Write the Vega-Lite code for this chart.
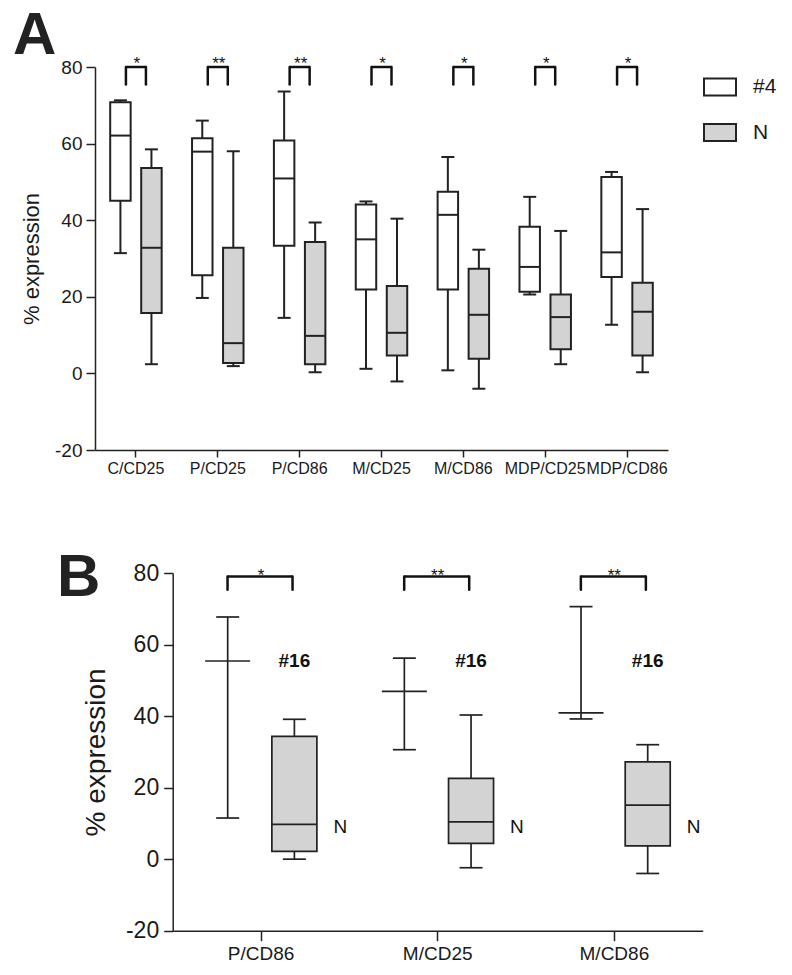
{
  "$schema": "https://vega.github.io/schema/vega-lite/v6.json",
  "padding": {"left": 13, "top": 5, "right": 5, "bottom": 5},
  "background": "white",
  "spacing": 71,
  "resolve": {"scale": {"fill": "independent", "xOffset": "independent", "x": "independent", "y": "independent"}, "legend": {"fill": "independent"}},
  "config": {
    "view": {"stroke": null},
    "font": "Liberation Sans",
    "tick": {"opacity": 1},
    "axis": {"grid": false, "domainColor": "#222", "tickColor": "#222", "labelColor": "#1a1a1a", "titleColor": "#1a1a1a", "domainWidth": 1.5, "tickWidth": 1.5, "labelFont": "Liberation Sans", "titleFont": "Liberation Sans", "titleFontWeight": "normal"}
  },
  "datasets": {
    "boxA": [
      {"cat": "C/CD25", "group": "#4", "min": 31.4, "q1": 45.1, "median": 62.1, "q3": 70.8, "max": 71.3},
      {"cat": "C/CD25", "group": "N", "min": 2.4, "q1": 15.8, "median": 32.8, "q3": 53.6, "max": 58.5},
      {"cat": "P/CD25", "group": "#4", "min": 19.7, "q1": 25.6, "median": 57.9, "q3": 61.4, "max": 66.0},
      {"cat": "P/CD25", "group": "N", "min": 1.9, "q1": 2.7, "median": 7.9, "q3": 32.8, "max": 58.0},
      {"cat": "P/CD86", "group": "#4", "min": 14.5, "q1": 33.3, "median": 50.9, "q3": 60.8, "max": 73.6},
      {"cat": "P/CD86", "group": "N", "min": 0.3, "q1": 2.4, "median": 9.8, "q3": 34.3, "max": 39.4},
      {"cat": "M/CD25", "group": "#4", "min": 1.2, "q1": 21.9, "median": 35.0, "q3": 44.1, "max": 44.9},
      {"cat": "M/CD25", "group": "N", "min": -2.1, "q1": 4.7, "median": 10.6, "q3": 22.8, "max": 40.4},
      {"cat": "M/CD86", "group": "#4", "min": 0.8, "q1": 21.9, "median": 41.4, "q3": 47.4, "max": 56.5},
      {"cat": "M/CD86", "group": "N", "min": -4.0, "q1": 3.8, "median": 15.3, "q3": 27.3, "max": 32.3},
      {"cat": "MDP/CD25", "group": "#4", "min": 20.6, "q1": 21.3, "median": 27.8, "q3": 38.3, "max": 46.1},
      {"cat": "MDP/CD25", "group": "N", "min": 2.4, "q1": 6.3, "median": 14.7, "q3": 20.6, "max": 37.2},
      {"cat": "MDP/CD86", "group": "#4", "min": 12.7, "q1": 25.2, "median": 31.6, "q3": 51.3, "max": 52.6},
      {"cat": "MDP/CD86", "group": "N", "min": 0.3, "q1": 4.7, "median": 16.1, "q3": 23.7, "max": 42.9}
    ],
    "sigA": [
      {"cat": "C/CD25", "sig": "*"},
      {"cat": "P/CD25", "sig": "**"},
      {"cat": "P/CD86", "sig": "**"},
      {"cat": "M/CD25", "sig": "*"},
      {"cat": "M/CD86", "sig": "*"},
      {"cat": "MDP/CD25", "sig": "*"},
      {"cat": "MDP/CD86", "sig": "*"}
    ],
    "boxB": [
      {"cat": "P/CD86", "group": "#16", "min": 11.5, "q1": null, "median": 55.4, "q3": null, "max": 67.7},
      {"cat": "P/CD86", "group": "N", "min": 0.0, "q1": 2.2, "median": 9.7, "q3": 34.3, "max": 39.1},
      {"cat": "M/CD25", "group": "#16", "min": 30.6, "q1": null, "median": 46.9, "q3": null, "max": 56.2},
      {"cat": "M/CD25", "group": "N", "min": -2.4, "q1": 4.4, "median": 10.4, "q3": 22.6, "max": 40.3},
      {"cat": "M/CD86", "group": "#16", "min": 39.2, "q1": null, "median": 40.9, "q3": null, "max": 70.6},
      {"cat": "M/CD86", "group": "N", "min": -4.0, "q1": 3.7, "median": 15.1, "q3": 27.2, "max": 32.0}
    ],
    "sigB": [
      {"cat": "P/CD86", "sig": "*"},
      {"cat": "M/CD25", "sig": "**"},
      {"cat": "M/CD86", "sig": "**"}
    ]
  },
  "vconcat": [
    {
      "width": 573,
      "height": 383,
      "title": {"text": "A", "fontSize": 60, "fontWeight": "bold", "anchor": "start", "frame": "group", "dx": -82, "offset": -59, "baseline": "alphabetic", "color": "#222", "font": "Liberation Sans"},
      "encoding": {
        "x": {"field": "cat", "type": "nominal", "sort": null, "scale": {"paddingInner": 0, "paddingOuter": 0},
              "axis": {"title": null, "labelAngle": 0, "labelFontSize": 16, "tickSize": 7, "labelPadding": 3, "labelOverlap": false}},
        "y": {"type": "quantitative", "scale": {"domain": [-20, 80], "nice": false, "zero": false},
              "axis": {"title": "% expression", "values": [-20, 0, 20, 40, 60, 80], "labelExpr": "'' + datum.value", "tickSize": 9, "labelFontSize": 19, "labelPadding": 4, "titleFontSize": 22, "titlePadding": 11}}
      },
      "layer": [
        {"data": {"name": "boxA"}, "mark": {"type": "rule", "color": "#222", "strokeWidth": 2},
         "encoding": {"xOffset": {"field": "group", "scale": {"paddingInner": 0.34, "paddingOuter": 0.49}}, "y": {"field": "min"}, "y2": {"field": "max"}}},
        {"data": {"name": "boxA"}, "mark": {"type": "bar", "stroke": "#222", "strokeWidth": 2},
         "encoding": {"xOffset": {"field": "group"}, "y": {"field": "q1"}, "y2": {"field": "q3"},
           "fill": {"field": "group", "type": "nominal", "scale": {"domain": ["#4", "N"], "range": ["#ffffff", "#d3d3d3"]},
             "legend": {"title": null, "orient": "none", "legendX": 608, "legendY": 3, "symbolType": "M-1,-0.53L1,-0.53L1,0.53L-1,0.53Z", "symbolSize": 1024, "symbolStrokeColor": "#222", "symbolStrokeWidth": 2, "labelFontSize": 21, "labelFont": "Liberation Sans", "labelColor": "#1a1a1a", "labelOffset": 16, "rowPadding": 15.5, "padding": 0}}}},
        {"data": {"name": "boxA"}, "mark": {"type": "tick", "color": "#222", "thickness": 2, "size": 20.5},
         "encoding": {"xOffset": {"field": "group"}, "y": {"field": "median"}}},
        {"data": {"name": "boxA"}, "mark": {"type": "tick", "color": "#222", "thickness": 2, "size": 13},
         "encoding": {"xOffset": {"field": "group"}, "y": {"field": "min"}}},
        {"data": {"name": "boxA"}, "mark": {"type": "tick", "color": "#222", "thickness": 2, "size": 13},
         "encoding": {"xOffset": {"field": "group"}, "y": {"field": "max"}}},
        {"data": {"name": "sigA"}, "mark": {"type": "rule", "color": "#111", "strokeWidth": 2.5, "strokeCap": "round", "xOffset": -10},
         "encoding": {"y": {"datum": 80}, "y2": {"datum": 75.4}}},
        {"data": {"name": "sigA"}, "mark": {"type": "rule", "color": "#111", "strokeWidth": 2.5, "strokeCap": "round", "xOffset": 10},
         "encoding": {"y": {"datum": 80}, "y2": {"datum": 75.4}}},
        {"data": {"name": "sigA"}, "mark": {"type": "tick", "color": "#111", "thickness": 2.5, "size": 20},
         "encoding": {"y": {"datum": 80}}},
        {"data": {"name": "sigA"}, "mark": {"type": "text", "color": "#111", "fontSize": 17, "baseline": "alphabetic", "dy": 1.5, "dx": 1, "font": "Liberation Sans"},
         "encoding": {"y": {"datum": 80}, "text": {"field": "sig"}}}
      ]
    },
    {
      "width": 607.7,
      "height": 357.7,
      "title": {"text": "B", "fontSize": 60, "fontWeight": "bold", "anchor": "start", "frame": "group", "dx": -38, "offset": -93.7, "baseline": "alphabetic", "color": "#222", "font": "Liberation Sans"},
      "encoding": {
        "x": {"field": "cat", "type": "nominal", "sort": null, "scale": {"range": [77.7, 607.7], "paddingInner": 0, "paddingOuter": 0},
              "axis": {"title": null, "labelAngle": 0, "labelFontSize": 19, "tickSize": 10, "labelPadding": 4, "labelOverlap": false}},
        "y": {"type": "quantitative", "scale": {"domain": [-20, 80], "nice": false, "zero": false},
              "axis": {"title": "% expression", "offset": -77.7, "values": [-20, 0, 20, 40, 60, 80], "labelExpr": "'' + datum.value", "tickSize": 9, "labelFontSize": 23, "labelPadding": 5, "titleFontSize": 28, "titlePadding": 15}}
      },
      "layer": [
        {"data": {"name": "boxB"}, "mark": {"type": "rule", "color": "#222", "strokeWidth": 1.7},
         "encoding": {"xOffset": {"field": "group", "scale": {"paddingInner": 0.325, "paddingOuter": 0.487}}, "y": {"field": "min"}, "y2": {"field": "max"}}},
        {"data": {"name": "boxB"}, "mark": {"type": "bar", "stroke": "#222", "strokeWidth": 1.7},
         "encoding": {"xOffset": {"field": "group"}, "y": {"field": "q1"}, "y2": {"field": "q3"},
           "fill": {"field": "group", "type": "nominal", "scale": {"domain": ["#16", "N"], "range": ["#ffffff", "#d3d3d3"]}, "legend": null}}},
        {"data": {"name": "boxB"}, "mark": {"type": "tick", "color": "#222", "thickness": 1.7, "size": 45},
         "encoding": {"xOffset": {"field": "group"}, "y": {"field": "median"}}},
        {"data": {"name": "boxB"}, "mark": {"type": "tick", "color": "#222", "thickness": 1.7, "size": 23},
         "encoding": {"xOffset": {"field": "group"}, "y": {"field": "min"}}},
        {"data": {"name": "boxB"}, "mark": {"type": "tick", "color": "#222", "thickness": 1.7, "size": 23},
         "encoding": {"xOffset": {"field": "group"}, "y": {"field": "max"}}},
        {"data": {"name": "boxB"}, "transform": [{"filter": "datum.group === 'N'"}],
         "mark": {"type": "text", "color": "#111", "fontSize": 19, "fontWeight": "bold", "baseline": "middle", "align": "center", "font": "Liberation Sans"},
         "encoding": {"xOffset": {"field": "group"}, "y": {"datum": 55.3}, "text": {"value": "#16"}}},
        {"data": {"name": "boxB"}, "transform": [{"filter": "datum.group === 'N'"}],
         "mark": {"type": "text", "color": "#111", "fontSize": 19, "baseline": "middle", "align": "left", "dx": 39, "font": "Liberation Sans"},
         "encoding": {"xOffset": {"field": "group"}, "y": {"datum": 9.1}, "text": {"field": "group"}}},
        {"data": {"name": "sigB"}, "mark": {"type": "rule", "color": "#111", "strokeWidth": 2.5, "strokeCap": "round", "xOffset": -33.5},
         "encoding": {"y": {"datum": 79}, "y2": {"datum": 75.3}}},
        {"data": {"name": "sigB"}, "mark": {"type": "rule", "color": "#111", "strokeWidth": 2.5, "strokeCap": "round", "xOffset": 31.5},
         "encoding": {"y": {"datum": 79}, "y2": {"datum": 75.3}}},
        {"data": {"name": "sigB"}, "mark": {"type": "tick", "color": "#111", "thickness": 2.5, "size": 65, "xOffset": -1},
         "encoding": {"y": {"datum": 79}}},
        {"data": {"name": "sigB"}, "mark": {"type": "text", "color": "#111", "fontSize": 17, "baseline": "alphabetic", "dy": 4, "font": "Liberation Sans"},
         "encoding": {"y": {"datum": 79}, "text": {"field": "sig"}}}
      ]
    }
  ]
}
